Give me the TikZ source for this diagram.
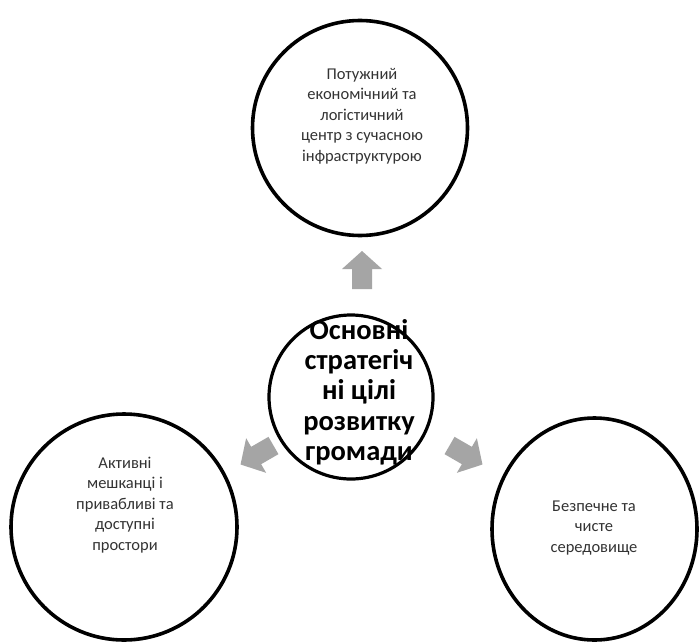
\documentclass[tikz,border=0pt]{standalone}
\usepackage{fontspec}
\setmainfont{Carlito}
\usetikzlibrary{shapes.geometric}
\definecolor{txtgray}{HTML}{333333}
\definecolor{arrgray}{HTML}{A5A5A5}
\tikzset{
  goal/.style={draw=black, line width=3.6pt, fill=white, inner sep=0pt},
  goaltext/.style={text=txtgray, align=center, font=\fontsize{16.5}{20.5}\selectfont, inner sep=0pt},
  centertext/.style={text=black, align=center, font=\fontsize{28.5}{30.3}\selectfont\bfseries, inner sep=0pt},
  blockarrow/.style={fill=arrgray}
}
\begin{document}
\begin{tikzpicture}[x=1pt,y=-1pt]
\useasboundingbox (0,0) rectangle (700,642);
\fill[white] (0,0) rectangle (700,642);
% circles
\node[goal, circle, minimum size=215pt] (top) at (360,128) {};
\node[goal, circle, minimum size=226pt] (left) at (124,527) {};
\node[goal, ellipse, minimum width=205pt, minimum height=222pt] (right) at (594.5,529) {};
\node[goal, circle, minimum size=164pt, line width=3.2pt] (center) at (351,397) {};
% texts
\node[goaltext] (toptext) at (362,116) {Потужний\\економічний та\\логістичний\\центр з сучасною\\інфраструктурою};
\node[goaltext] (lefttext) at (125,505) {Активні\\мешканці і\\привабливі та\\доступні\\простори};
\node[goaltext] (righttext) at (594,528) {Безпечне та\\чисте\\середовище};
\node[centertext] (centertxt) at (359,392) {Основні\\стратегіч\\ні цілі\\розвитку\\громади};
% arrows
\coordinate (atop) at (362,270);
\coordinate (aleft) at (257,455);
\coordinate (aright) at (466,455);
\foreach \p/\r in {atop/0, aleft/120, aright/-120}{
  \fill[blockarrow, shift={(\p)}, rotate=\r]
    (0,-19) -- (20,-1) -- (10,-1) -- (10,19) -- (-10,19) -- (-10,-1) -- (-20,-1) -- cycle;
}
\end{tikzpicture}
\end{document}
